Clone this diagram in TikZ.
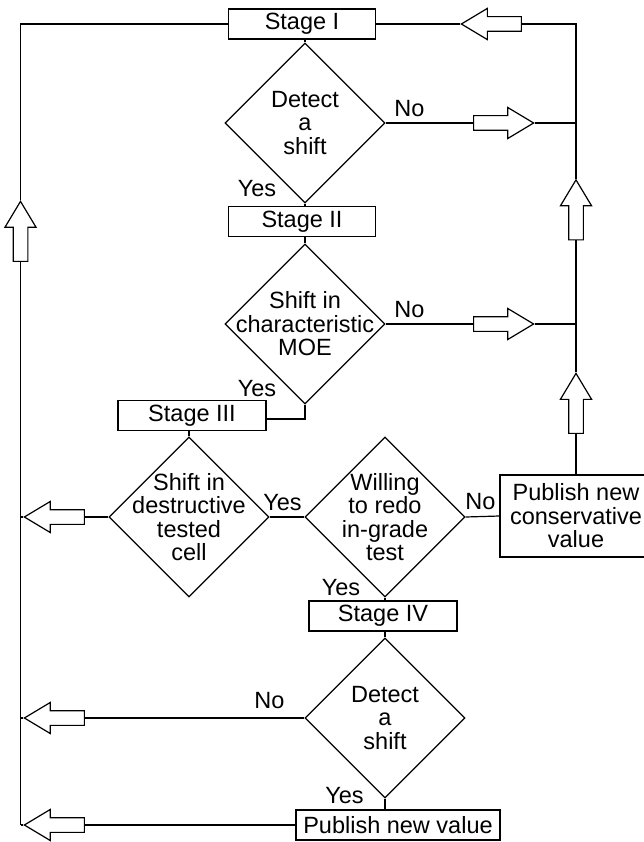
\documentclass[tikz,border=0pt]{standalone}
\usepackage{fontspec}
\setmainfont{Liberation Sans}
\usepackage{tikz}
\usetikzlibrary{positioning,shapes.geometric,shapes.arrows}

\begin{document}
\begin{tikzpicture}[x=1pt,y=-1pt,line width=1.2pt,
    every node/.style={font=\fontsize{23.5}{23.5}\selectfont},
    stagebox/.style={draw,rectangle,minimum width=147,minimum height=30,inner sep=0pt},
    decision/.style={draw,diamond,minimum width=160,minimum height=160,inner sep=0pt},
    fatarrow/.style={draw,fill=white,single arrow,single arrow head extend=8.25,
      single arrow tip angle=62,inner sep=0pt,inner ysep=6.75,minimum height=60}]
    \useasboundingbox (0,0) rectangle (644,842);
    % boxes and decisions
    \node[stagebox] (s1) at (302,24) {Stage I};
    \node[decision,label={[align=center]center:Detect\\a\\shift}] (d1) at (305,123) {};
    \node[stagebox] (s2) at (302,221.5) {Stage II};
    \node[decision,label={[align=center]center:Shift in\\characteristic\\MOE}] (d2) at (305,324) {};
    \node[stagebox,minimum width=148] (s3) at (192,415.5) {Stage III};
    \node[decision,label={[align=center]center:Shift in\\destructive\\tested\\cell}] (d3) at (189,517) {};
    \node[decision,label={[align=center]center:Willing\\to redo\\in-grade\\test}] (d4) at (385,517) {};
    \node[stagebox,minimum width=152,minimum height=82,align=center] (pub1) at (576,516) {Publish new\\conservative\\value};
    \node[stagebox,minimum width=148] (s4) at (383,616) {Stage IV};
    \node[decision,label={[align=center]center:Detect\\a\\shift}] (d5) at (385,718) {};
    \node[stagebox,minimum width=204] (pub2) at (398,825) {Publish new value};
    % corners of the two return lines
    \coordinate (tl) at (20.5,24);
    \coordinate (tr) at (576,24);
    \coordinate (bl) at (20.5,825);
    % hollow arrows
    \node[fatarrow,rotate=180] (a1) at (497.5,24) {};
    \node[fatarrow] (a2) at (497.5,123) {};
    \node[fatarrow,rotate=90] (a3) at (576,216) {};
    \node[fatarrow] (a4) at (497.5,324) {};
    \node[fatarrow,rotate=90] (a5) at (576,409.5) {};
    \node[fatarrow,rotate=90] (a6) at (20.5,237.5) {};
    \node[fatarrow,rotate=180] (a7) at (60.5,517) {};
    \node[fatarrow,rotate=180] (a8) at (60.5,718) {};
    \node[fatarrow,rotate=180] (a9) at (60.5,825) {};
    % main flow
    \draw (s1.south -| d1) -- (d1.north);
    \draw (d1.south) -- (d1.south |- s2.north);
    \draw (s2.south -| d2) -- (d2.north);
    \draw (d2.south) |- ([yshift=-3.5pt]s3.east);
    \draw (s3.south -| d3) -- (d3.north);
    \draw (d3.east) -- (d4.west);
    \draw (d4.east) -- (pub1.west);
    \draw (d4.south) -- (d4.south |- s4.north);
    \draw (s4.south -| d5) -- (d5.north);
    \draw (d5.south) -- (d5.south |- pub2.north);
    % right return line
    \draw (s1.east) -- (a1.tip);
    \draw (a1.tail) -- (tr) -- (a3.tip);
    \draw (a3.tail) -- (a5.tip);
    \draw (a5.tail) -- (pub1.north);
    \draw (d1.east) -- (a2.tail);
    \draw (a2.tip) -- (d1 -| tr);
    \draw (d2.east) -- (a4.tail);
    \draw (a4.tip) -- (d2 -| tr);
    % left return line
    \draw (s1.west) -- (tl) -- (a6.tip);
    \draw (a6.tail) -- (bl);
    \draw (d3.west) -- (a7.tail);
    \draw (a7.tip) -- (a7.tip -| tl);
    \draw (d5.west) -- (a8.tail);
    \draw (a8.tip) -- (a8.tip -| tl);
    \draw (pub2.west) -- (a9.tail);
    \draw (a9.tip) -- (bl);
    % yes / no
    \node (no1) at (409.5,108.5) {No};
    \node (yes1) at (257,188.5) {Yes};
    \node (no2) at (409.5,310) {No};
    \node (yes2) at (257,389) {Yes};
    \node (yes3) at (282.5,503) {Yes};
    \node (no3) at (480.5,502) {No};
    \node (yes4) at (341,587.5) {Yes};
    \node (no4) at (269.5,701) {No};
    \node (yes5) at (344.5,796) {Yes};
\end{tikzpicture}
\end{document}
